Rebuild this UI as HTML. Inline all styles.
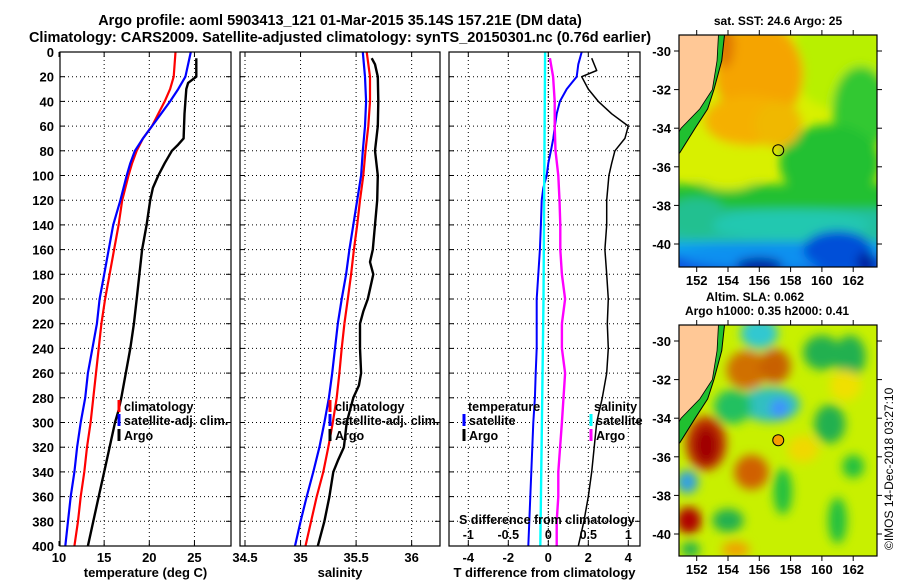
<!DOCTYPE html>
<html><head><meta charset="utf-8"><style>
html,body{margin:0;padding:0;background:#fff;}
svg{display:block;font-family:"Liberation Sans",Arial,sans-serif;font-weight:bold;}
</style></head><body>
<svg id="fig" width="900" height="580" viewBox="0 0 900 580" xmlns="http://www.w3.org/2000/svg">
<defs>
<filter id="blur" x="-20%" y="-20%" width="140%" height="140%"><feGaussianBlur stdDeviation="5"/></filter>
<clipPath id="clip1"><rect x="679" y="35" width="198" height="232"/></clipPath>
<clipPath id="clip2"><rect x="679" y="325" width="198" height="231"/></clipPath>
<clipPath id="cp1"><rect x="60" y="52" width="171" height="494"/></clipPath>
<clipPath id="cp2"><rect x="240" y="52" width="200" height="494"/></clipPath>
<clipPath id="cp3"><rect x="449" y="52" width="191" height="494"/></clipPath>
</defs>
<text x="340" y="25" font-size="14.5" text-anchor="middle">Argo profile: aoml 5903413_121 01-Mar-2015 35.14S 157.21E (DM data)</text>
<text x="340" y="42" font-size="14.5" text-anchor="middle">Climatology: CARS2009. Satellite-adjusted climatology: synTS_20150301.nc (0.76d earlier)</text>
<g id="p1"></g>
<g id="p2"></g>
<g id="p3"></g>
<g id="m1"></g>
<g id="m2"></g>
<text x="778" y="25" font-size="12" text-anchor="middle">sat. SST: 24.6 Argo: 25</text>
<text x="755" y="301" font-size="12" text-anchor="middle">Altim. SLA: 0.062</text>
<text x="767" y="315" font-size="12" text-anchor="middle">Argo h1000: 0.35 h2000: 0.41</text>
<text x="0" y="0" font-size="12" font-weight="normal" transform="translate(893,550) rotate(-90)">©IMOS 14-Dec-2018 03:27:10</text>
</svg>
<script>
// ---- data ----
const depthTicks = [0,20,40,60,80,100,120,140,160,180,200,220,240,260,280,300,320,340,360,380,400];
const tempTicks = [10,15,20,25];
const salTicks = [34.5,35,35.5,36];
const tdiffTicks = [-4,-2,0,2,4];
const sdiffTicks = [-1,-0.5,0,0.5,1];
const sdiffTickLabels = ['-1','-0.5','0','0.5','1'];

const dClim = [0,20,30,40,50,60,70,80,90,100,120,140,160,180,200,220,240,260,280,300,320,340,360,380,400];
const tClim = [22.9,22.7,22.3,21.7,21.0,20.3,19.3,18.6,18.1,17.7,17.0,16.6,16.1,15.6,15.1,14.7,14.4,14.1,13.8,13.5,13.1,12.8,12.4,12.1,11.7];
const tSat  = [24.6,24.0,23.2,22.3,21.3,20.3,19.3,18.4,17.9,17.5,16.8,16.0,15.5,15.0,14.5,14.2,13.7,13.2,12.9,12.4,12.0,11.7,11.3,11.0,10.7];
const dArgoT = [5,20,25,30,40,50,70,75,80,90,100,110,120,140,160,180,200,220,240,260,280,290,300,320,340,360,380,400];
const tArgo = [25.2,25.2,24.3,24.1,24.0,23.9,23.8,23.2,22.5,21.7,21.0,20.4,20.1,19.7,19.2,18.9,18.6,18.3,17.9,17.4,16.9,16.6,16.2,15.6,15.0,14.4,13.8,13.2];

const dSal = [0,20,40,60,80,100,120,140,160,180,200,220,240,260,280,300,320,340,360,380,400];
const sClim = [35.595,35.625,35.625,35.61,35.585,35.565,35.535,35.51,35.48,35.455,35.425,35.395,35.37,35.35,35.325,35.29,35.25,35.205,35.145,35.095,35.045];
const sSat  = [35.56,35.58,35.59,35.58,35.56,35.545,35.51,35.475,35.44,35.41,35.37,35.335,35.31,35.285,35.255,35.215,35.17,35.115,35.055,35.0,34.95];
const dArgoS = [5,10,20,40,60,80,100,120,140,160,170,180,200,210,220,240,260,270,280,300,320,330,340,360,380,400];
const sArgo = [35.64,35.67,35.695,35.7,35.695,35.67,35.695,35.69,35.67,35.65,35.625,35.655,35.605,35.565,35.535,35.535,35.545,35.525,35.475,35.415,35.39,35.34,35.295,35.26,35.215,35.155];

const dDiffSat = [0,10,20,25,30,40,50,60,70,80,90,100,110,120,140,160,180,200,220,240,260,280,300,320,340,360,380,400];
const tDiffSat = [1.67,1.5,1.42,1.17,0.92,0.58,0.42,0.33,0.25,0.13,0,-0.08,-0.25,-0.33,-0.37,-0.42,-0.5,-0.58,-0.58,-0.58,-0.63,-0.67,-0.75,-0.8,-0.85,-0.9,-0.95,-1.0];
const dSDiffSat = [0,100,200,300,400];
const sDiffSat = [-0.04,-0.05,-0.06,-0.08,-0.10];
const dSDiffArgo = [5,20,40,60,80,100,120,140,160,180,200,220,240,260,280,300,340,360,380,400];
const sDiffArgo = [0.02,0.06,0.08,0.08,0.09,0.125,0.14,0.15,0.15,0.17,0.21,0.17,0.17,0.21,0.19,0.17,0.125,0.125,0.105,0.105];
const dTDiffArgo = [5,15,20,30,40,50,60,70,80,90,100,120,140,160,180,200,220,240,260,280,300,340,360,380,400];
const tDiffArgo = [2.17,2.42,1.67,2.0,2.5,3.17,4.0,3.83,3.33,3.17,3.03,2.92,2.92,2.83,2.92,3.0,2.95,3.0,2.92,2.7,2.42,2.17,2.0,1.78,1.5];

// ---- axes ----
const yD = d => 52 + d*1.235;
const xT = t => 59 + (t-10)*9.03;
const xS = s => 245 + (s-34.5)*111.1;
const xTD = t => 548.3 + t*20;
const xSD = s => 548.3 + s*80;

const NS = 'http://www.w3.org/2000/svg';
function mk(tag, parent, attrs){
  const e = document.createElementNS(NS, tag);
  for (const k in attrs) e.setAttribute(k, attrs[k]);
  parent.appendChild(e);
  return e;
}

function panel(g, x0, x1, xs, xticks, xlabels, xfun, title, clip, showY){
  const bg = mk('rect', g, {x:x0, y:52, width:x1-x0, height:494, fill:'#fff', stroke:'none'});
  
  
  depthTicks.forEach((d,i)=>{
    const yy = yD(d);
    if (i>0 && i<depthTicks.length-1){
      const gl = mk('line', g, {x1:x0, x2:x1, y1:yy, y2:yy, stroke:'#000', 'stroke-width':1, 'stroke-dasharray':'1,3'});
      
      
    }
    mk('line', g, {x1:x0, x2:x0+5, y1:yy, y2:yy, stroke:'#000'});
    mk('line', g, {x1:x1-5, x2:x1, y1:yy, y2:yy, stroke:'#000'});
    if (showY){
      const t = mk('text', g, {x:x0-6, y:yy+5, 'font-size':13, 'text-anchor':'end'});
      
      
      t.textContent = d;
    }
  });
  xticks.forEach((v,i)=>{
    const xx = xfun(v);
    if (xx > x0+2 && xx < x1-2){
      const gl = mk('line', g, {x1:xx, x2:xx, y1:52, y2:546, stroke:'#000', 'stroke-width':1, 'stroke-dasharray':'1,3'});
      
      
    }
    mk('line', g, {x1:xx, x2:xx, y1:546, y2:541, stroke:'#000'});
    mk('line', g, {x1:xx, x2:xx, y1:52, y2:57, stroke:'#000'});
    const t = mk('text', g, {x:xx, y:562, 'font-size':13, 'text-anchor':'middle'});
    
    
    t.textContent = xlabels[i];
  });
  const tt = mk('text', g, {x:(x0+x1)/2, y:577, 'font-size':13, 'text-anchor':'middle'});
  
  
  tt.textContent = title;
}

function line(g, xs, ds, xfun, color, w, name, clip){
  const pts = xs.map((v,i)=> xfun(v).toFixed(1)+','+yD(ds[i]).toFixed(1)).join(' ');
  const p = mk('polyline', g, {points:pts, fill:'none', stroke:color, 'stroke-width':w, 'stroke-linejoin':'round', 'clip-path':'url(#'+clip+')'});
  
  
}
function box(g, x0, x1){
  const b = mk('rect', g, {x:x0, y:52, width:x1-x0, height:494, fill:'none', stroke:'#000', 'stroke-width':1.2});
  
  
}
function legendEntry(g, x, y, color, label, name){
  if (color) mk('line', g, {x1:x, x2:x, y1:y-11, y2:y+1, stroke:color, 'stroke-width':3});
  const t = mk('text', g, {x:x+5, y:y, 'font-size':12.5});
  
  
  t.textContent = label;
}

// panel 1
const g1 = document.getElementById('p1');
panel(g1, 60, 231, null, tempTicks, tempTicks.map(String), xT, 'temperature (deg C)', 'cp1', true);
line(g1, tClim, dClim, xT, '#ff0000', 2.2, 'climatology-temperature-line', 'cp1');
line(g1, tSat, dClim, xT, '#0000ff', 2.2, 'satellite-temperature-line', 'cp1');
line(g1, tArgo, dArgoT, xT, '#000000', 2.4, 'argo-temperature-line', 'cp1');
legendEntry(g1, 119, 411, '#ff0000', 'climatology', 'legend-climatology');
legendEntry(g1, 119, 425, '#0000ff', 'satellite-adj. clim.', 'legend-satellite-adj');
legendEntry(g1, 119, 440, '#000000', 'Argo', 'legend-argo');
box(g1, 60, 231);

// panel 2
const g2 = document.getElementById('p2');
panel(g2, 240, 440, null, salTicks, salTicks.map(String), xS, 'salinity', 'cp2', false);
line(g2, sClim, dSal, xS, '#ff0000', 2.2, 'climatology-salinity-line', 'cp2');
line(g2, sSat, dSal, xS, '#0000ff', 2.2, 'satellite-salinity-line', 'cp2');
line(g2, sArgo, dArgoS, xS, '#000000', 2.4, 'argo-salinity-line', 'cp2');
legendEntry(g2, 330, 411, '#ff0000', 'climatology', 'legend-climatology');
legendEntry(g2, 330, 425, '#0000ff', 'satellite-adj. clim.', 'legend-satellite-adj');
legendEntry(g2, 330, 440, '#000000', 'Argo', 'legend-argo');
box(g2, 240, 440);

// panel 3
const g3 = document.getElementById('p3');
panel(g3, 449, 640, null, tdiffTicks, tdiffTicks.map(String), xTD, 'T difference from climatology', 'cp3', false);
const z = mk('line', g3, {x1:xTD(0), x2:xTD(0), y1:52, y2:546, stroke:'#000', 'stroke-dasharray':'1,2'});


line(g3, tDiffSat, dDiffSat, xTD, '#0000ff', 2, 'satellite-t-diff-line', 'cp3');
line(g3, sDiffSat, dSDiffSat, xSD, '#00ffff', 2.4, 'satellite-s-diff-line', 'cp3');
line(g3, sDiffArgo, dSDiffArgo, xSD, '#ff00ff', 2.4, 'argo-s-diff-line', 'cp3');
line(g3, tDiffArgo, dTDiffArgo, xTD, '#000000', 1.5, 'argo-t-diff-line', 'cp3');
legendEntry(g3, 463, 411, null, 'temperature', 'legend-temperature-heading');
legendEntry(g3, 464, 425, '#0000ff', 'satellite', 'legend-t-satellite');
legendEntry(g3, 464, 440, '#000000', 'Argo', 'legend-t-argo');
legendEntry(g3, 589, 411, null, 'salinity', 'legend-salinity-heading');
legendEntry(g3, 591, 425, '#00ffff', 'satellite', 'legend-s-satellite');
legendEntry(g3, 591, 440, '#ff00ff', 'Argo', 'legend-s-argo');
const st = mk('text', g3, {x:459, y:524, 'font-size':12.5});


st.textContent = 'S difference from climatology';
sdiffTicks.forEach((v,i)=>{
  const t = mk('text', g3, {x:xSD(v), y:539, 'font-size':12.5, 'text-anchor':'middle'});
  
  
  t.textContent = sdiffTickLabels[i];
});
box(g3, 449, 640);

// ---- maps ----
const lonX = lon => 696.7 + (lon-152)*15.65;
const mapLonTicks = [152,154,156,158,160,162];
const mapLatTicks = [-30,-32,-34,-36,-38,-40];
// blobs: lon, lat, rx(deg), ry(deg), color
const sstBlobs = [
  [161,-30.5,3,2.5,'#b8f000'],[162.5,-33,1.8,2.2,'#30c830'],[160.5,-35.8,3.2,2,'#20c030'],
  [156,-31.2,2.8,2.6,'#f5a400'],[155.3,-33.6,2.8,1.3,'#f5b000'],[157.2,-33.8,1.5,1.2,'#f0b800'],
  [153.8,-29.6,0.6,1.3,'#e07800'],[154,-36,2.5,1.2,'#d8f000'],
  [152,-38.6,2,1,'#20c090'],[158,-39,5,0.8,'#20c8b0'],[157,-40.6,6,0.7,'#1090f0'],
  [161,-40.3,2.2,1,'#0050d8'],[156,-41.1,1.5,0.4,'#0020a0'],[162.8,-41,0.6,0.6,'#0020a0']
];
const slaBlobs = [
  [156,-29.6,1.2,0.8,'#30c8d0'],[155.2,-31.5,1.3,1,'#d07000'],[157,-31.3,1,0.9,'#c86000'],
  [160,-30.6,1.2,0.9,'#20b050'],[161.8,-30.8,1,1.1,'#20b050'],[156.7,-33.3,1.9,0.9,'#30c0c0'],
  [157.3,-33.5,0.6,0.5,'#4090ff'],[152.6,-35.3,1.3,1.4,'#c03000'],[152.6,-35.4,0.8,1,'#a00000'],
  [155.5,-36.8,1.1,0.9,'#d06000'],[151.4,-37.3,0.7,0.6,'#30a0e0'],[151.5,-39.3,0.8,0.7,'#b00000'],
  [160.5,-34.3,1,1,'#20b050'],[154,-39.3,1,0.6,'#20b050'],[157.5,-37.8,0.6,1.2,'#20c040'],
  [161,-39.3,0.6,1.2,'#20c040'],[162,-36.5,0.7,0.6,'#20c040'],[151.6,-40.8,0.6,0.4,'#20b050'],
  [154.5,-40.8,0.9,0.4,'#f0a000'],[161.5,-32.3,1,0.8,'#f0e000'],[158.8,-35.6,1,0.7,'#f0d800'],
  [154.3,-33.4,1.2,0.9,'#20c060']
];
function drawMap(gid, top, bottom, clip, base, blobs, latY, lowerBands, markFill){
  const g = document.getElementById(gid);
  const inner = mk('g', g, {'clip-path':'url(#'+clip+')'});
  const r = mk('rect', inner, {x:679, y:top, width:198, height:bottom-top, fill:base});
  
  
  const bl = mk('g', inner, {filter:'url(#blur)'});
  lowerBands.forEach(b=>{
    mk('rect', bl, {x:660, y:latY(b[0]), width:240, height:bottom-latY(b[0])+20, fill:b[1]});
  });
  blobs.forEach(b=>{
    const e = mk('ellipse', bl, {cx:lonX(b[0]), cy:latY(b[1]), rx:b[2]*15.65, ry:b[3]*19.3, fill:b[4]});
    
    
  });
  const coast = [[153.4,-29],[153.3,-30.5],[153.0,-32],[152.2,-33],[151.0,-34],[150.8,-34.3]];
  const shelf = [[153.8,-29],[153.6,-30.5],[153.1,-32],[152.7,-33],[151.9,-34],[150.9,-35.3]];
  const cs = coast.map(p=>lonX(p[0])+','+latY(p[1])).join(' ');
  const sh = shelf.map(p=>lonX(p[0])+','+latY(p[1])).join(' ');
  mk('polygon', inner, {points:'679,'+latY(-29)+' '+sh+' 679,'+latY(-35.3), fill:'#20c030'});
  mk('polyline', inner, {points:sh, fill:'none', stroke:'#000', 'stroke-width':1});
  const land = mk('polygon', inner, {points:'679,'+(top-5)+' '+lonX(153.4)+','+(top-5)+' '+cs+' 679,'+latY(-34.3), fill:'#ffc896', stroke:'#000', 'stroke-width':0.8});
  
  
  const m = mk('circle', g, {cx:lonX(157.21), cy:latY(-35.14), r:5.5, fill:markFill, stroke:'#000', 'stroke-width':1});
  
  
  const fr = mk('rect', g, {x:679, y:top, width:198, height:bottom-top, fill:'none', stroke:'#000', 'stroke-width':1.2});
  
  
  mapLatTicks.forEach(v=>{
    const yy = latY(v);
    mk('line', g, {x1:679, x2:674, y1:yy, y2:yy, stroke:'#000'});
    mk('line', g, {x1:877, x2:882, y1:yy, y2:yy, stroke:'#000'});
    const t = mk('text', g, {x:671, y:yy+5, 'font-size':13, 'text-anchor':'end'});
    
    
    t.textContent = v;
  });
  mapLonTicks.forEach(v=>{
    const xx = lonX(v);
    mk('line', g, {x1:xx, x2:xx, y1:bottom, y2:bottom+5, stroke:'#000'});
    mk('line', g, {x1:xx, x2:xx, y1:top, y2:top-5, stroke:'#000'});
    const t = mk('text', g, {x:xx, y:bottom+18, 'font-size':13, 'text-anchor':'middle'});
    
    
    t.textContent = v;
  });
}
drawMap('m1', 35, 267, 'clip1', '#d8f000', sstBlobs, lat => 51 + (-30-lat)*19.3,
  [[-36.9,'#20c030'],[-38.2,'#20c0a0'],[-39.9,'#10a0f0'],[-40.6,'#0858e0']], 'none');
drawMap('m2', 325, 556, 'clip2', '#c8f000', slaBlobs, lat => 341 + (-30-lat)*19.3, [], '#f5a000');
</script>
</body></html>
